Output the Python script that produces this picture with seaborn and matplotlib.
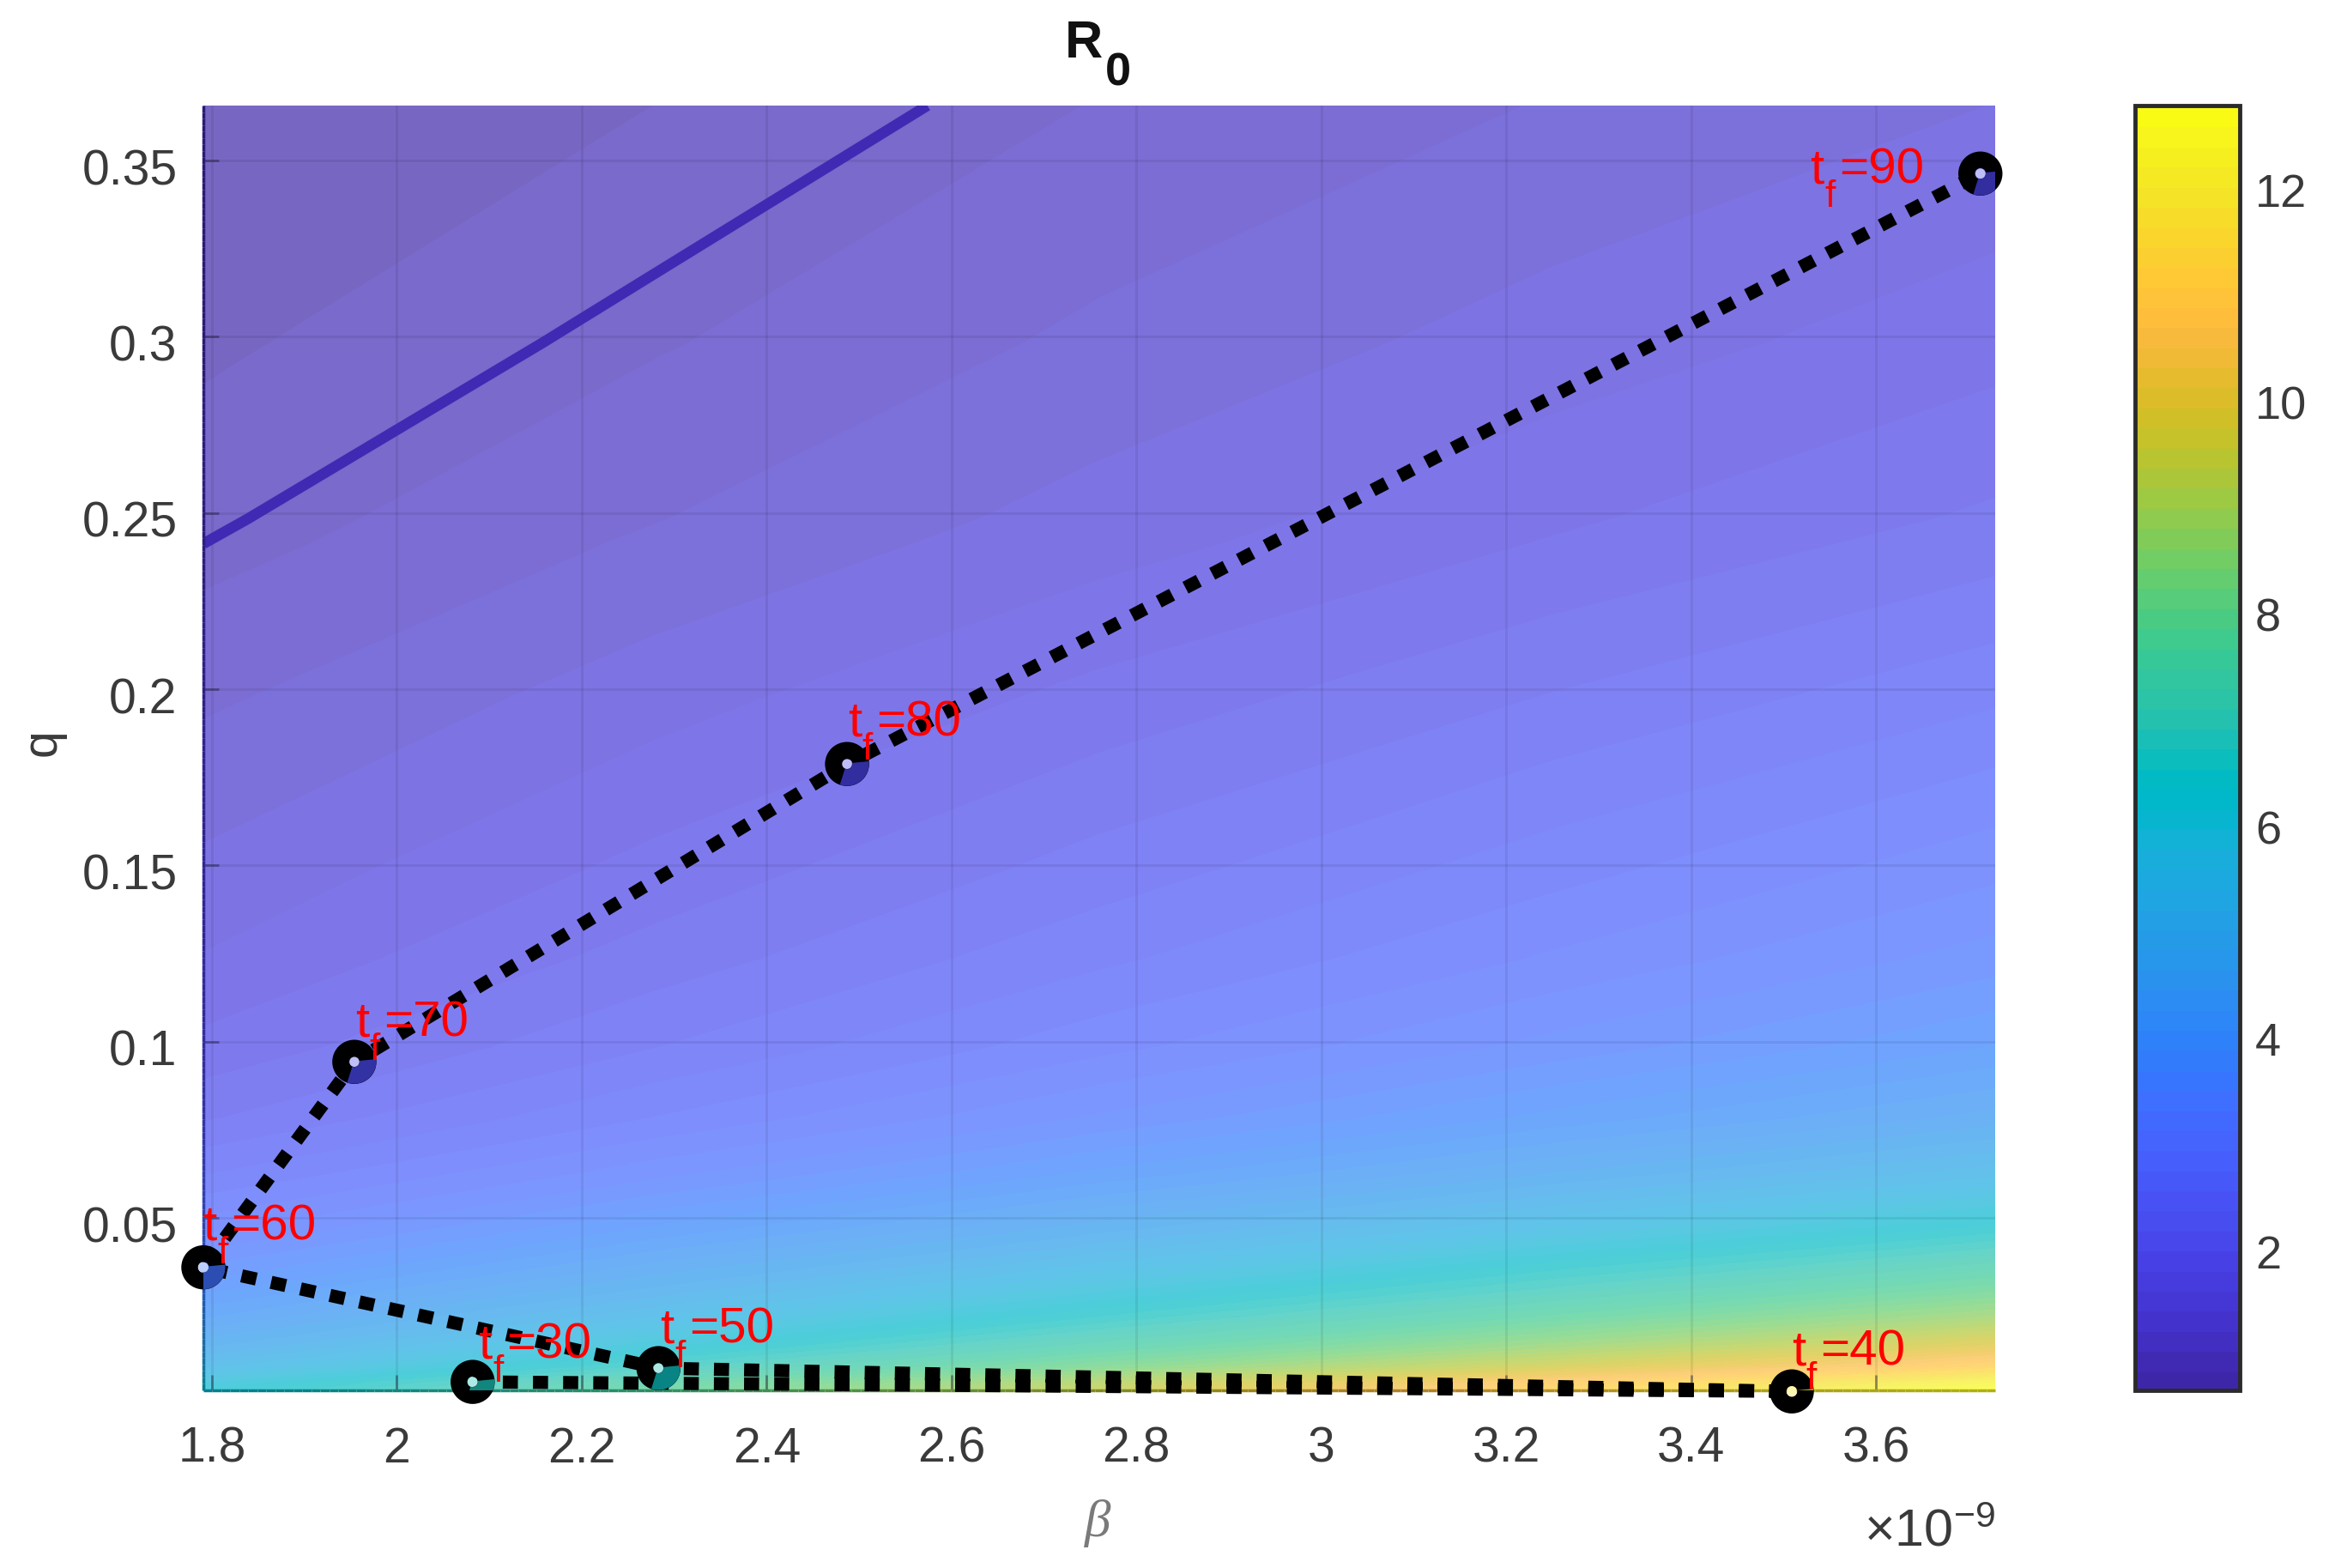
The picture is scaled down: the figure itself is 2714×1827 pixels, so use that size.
import numpy as np
import matplotlib
matplotlib.use("Agg")
import matplotlib.pyplot as plt
from matplotlib.colors import ListedColormap, Normalize
from matplotlib.cm import ScalarMappable
from matplotlib.collections import LineCollection
from matplotlib.path import Path
from matplotlib.transforms import ScaledTranslation
import seaborn as sns

# ---- data (beta in units of 1e-9) ----
beta_grid = [1.7907, 2.28, 2.76, 3.25, 3.729]
q_grid = [0.0011, 0.0033, 0.0079, 0.0138, 0.0218, 0.0299, 0.0463, 0.0623, 0.0783,
          0.0983, 0.1233, 0.1483, 0.1983, 0.2413, 0.2483, 0.2983, 0.3656]
r0_table = [
    [6.16, 7.84, 9.49, 11.18, 12.80],
    [5.96, 7.59, 9.19, 10.82, 12.42],
    [5.33, 6.79, 8.22, 9.69, 11.12],
    [4.80, 6.11, 7.40, 8.71, 10.00],
    [4.26, 5.43, 6.57, 7.74, 8.88],
    [3.83, 4.88, 5.91, 6.96, 7.98],
    [3.11, 3.97, 4.80, 5.66, 6.49],
    [2.58, 3.28, 3.97, 4.68, 5.37],
    [2.18, 2.78, 3.37, 3.97, 4.55],
    [1.88, 2.39, 2.90, 3.41, 3.92],
    [1.65, 2.10, 2.54, 2.99, 3.43],
    [1.49, 1.89, 2.29, 2.70, 3.10],
    [1.22, 1.55, 1.88, 2.21, 2.54],
    [1.00, 1.29, 1.56, 1.84, 2.11],
    [0.973, 1.25, 1.52, 1.79, 2.05],
    [0.85, 1.05, 1.30, 1.53, 1.75],
    [0.71, 0.88, 1.076, 1.27, 1.45],
]
tf_values = [30, 40, 50, 60, 70, 80, 90]
tf_beta = [2.082, 3.509, 2.283, 1.7907, 1.954, 2.487, 3.713]
tf_q = [0.0035, 0.0008, 0.0074, 0.036, 0.0943, 0.1788, 0.3463]
tf_r0 = [6.9, 12.0, 6.7, 3.45, 2.05, 1.9, 2.0]
label_beta = [2.088, 3.509, 2.285, 1.79, 1.955, 2.488, 3.529]
label_q = [0.0103, 0.0084, 0.0145, 0.0439, 0.1016, 0.1868, 0.3436]
x_ticks = [1.8, 2.0, 2.2, 2.4, 2.6, 2.8, 3.0, 3.2, 3.4, 3.6]
x_labels = ["1.8", "2", "2.2", "2.4", "2.6", "2.8", "3", "3.2", "3.4", "3.6"]
y_ticks = [0.05, 0.1, 0.15, 0.2, 0.25, 0.3, 0.35]
y_labels = ["0.05", "0.1", "0.15", "0.2", "0.25", "0.3", "0.35"]
cbar_ticks = [2, 4, 6, 8, 10, 12]
clim = (0.69, 12.80)
xlim = (1.7907, 3.729)
ylim = (0.0011, 0.3656)

parula = np.array([
 [.2422,.1504,.6603],[.2504,.1650,.7076],[.2578,.1818,.7511],[.2647,.1978,.7952],
 [.2706,.2147,.8364],[.2751,.2342,.8710],[.2783,.2559,.8991],[.2803,.2782,.9221],
 [.2813,.3006,.9414],[.2810,.3228,.9579],[.2795,.3447,.9717],[.2760,.3667,.9829],
 [.2699,.3892,.9906],[.2602,.4123,.9952],[.2440,.4358,.9988],[.2206,.4603,.9973],
 [.1963,.4847,.9892],[.1834,.5074,.9798],[.1786,.5289,.9682],[.1764,.5499,.9520],
 [.1687,.5703,.9359],[.1540,.5902,.9218],[.1460,.6091,.9079],[.1380,.6276,.8973],
 [.1248,.6459,.8883],[.1113,.6635,.8763],[.0952,.6798,.8598],[.0689,.6948,.8394],
 [.0297,.7082,.8163],[.0036,.7203,.7917],[.0067,.7312,.7660],[.0433,.7411,.7394],
 [.0964,.7500,.7120],[.1408,.7584,.6842],[.1717,.7670,.6554],[.1938,.7758,.6251],
 [.2161,.7843,.5923],[.2470,.7918,.5567],[.2906,.7973,.5188],[.3406,.8008,.4789],
 [.3909,.8029,.4354],[.4456,.8024,.3909],[.5044,.7993,.3480],[.5616,.7942,.3045],
 [.6174,.7876,.2612],[.6720,.7793,.2227],[.7242,.7698,.1910],[.7738,.7598,.1646],
 [.8203,.7498,.1535],[.8634,.7406,.1596],[.9035,.7330,.1774],[.9393,.7288,.2100],
 [.9728,.7298,.2394],[.9956,.7434,.2371],[.9970,.7659,.2199],[.9952,.7893,.2028],
 [.9892,.8136,.1885],[.9786,.8386,.1766],[.9676,.8639,.1643],[.9610,.8890,.1537],
 [.9597,.9135,.1423],[.9628,.9373,.1265],[.9691,.9606,.1064],[.9769,.9839,.0805]])

sns.set_theme(style="white")
plt.rcParams["font.family"] = ["Liberation Sans", "DejaVu Sans"]
plt.rcParams["mathtext.fontset"] = "custom"
plt.rcParams["mathtext.rm"] = "Liberation Sans"
plt.rcParams["mathtext.it"] = "Liberation Sans:italic"
plt.rcParams["mathtext.bf"] = "Liberation Sans:bold"
plt.rcParams["mathtext.default"] = "regular"

W, H = 2714, 1827
fig = plt.figure(figsize=(W / 100, H / 100), dpi=100, facecolor="white")
L, R, T, B = 237, 2325, 123, 1620
ax = fig.add_axes([L / W, 1 - B / H, (R - L) / W, (B - T) / H])

ALPHA = 0.7
cmap_op = ListedColormap(parula)
cmap_soft = ListedColormap(ALPHA * parula + (1 - ALPHA))
cmap_dark = ListedColormap(ALPHA * parula)
cmap_hole = ListedColormap(0.35 * parula + 0.65)
norm = Normalize(*clim)

Z = np.array(r0_table)
ax.contourf(beta_grid, q_grid, Z, levels=np.linspace(clim[0], clim[1], 65),
            cmap=cmap_soft, norm=norm, extend="both", zorder=1)
ax.contour(beta_grid, q_grid, Z, levels=[1.0], colors=[cmap_op(norm(1.0))],
           linewidths=9, zorder=3)

# tinted axes edges, following the field
edge_q = np.linspace(ylim[0], ylim[1], 200)
edge_b = np.linspace(xlim[0], xlim[1], 200)
left_vals = np.interp(edge_q, q_grid, Z[:, 0])
bot_vals = np.interp(edge_b, beta_grid, Z[0, :])
for xs, ys, vals in [(np.full_like(edge_q, xlim[0]), edge_q, left_vals),
                     (edge_b, np.full_like(edge_b, ylim[0]), bot_vals)]:
    pts = np.column_stack([xs, ys])
    lc = LineCollection(np.stack([pts[:-1], pts[1:]], axis=1), cmap=cmap_dark, norm=norm,
                        linewidths=2.5, zorder=4, clip_on=False)
    lc.set_array(vals[:-1])
    ax.add_collection(lc)

sns.lineplot(x=tf_beta, y=tf_q, sort=False, estimator=None, color="black", ax=ax,
             linewidth=11, linestyle=(0, (1.15, 1.15)), dash_capstyle="butt",
             clip_on=False, zorder=6)
sns.scatterplot(x=tf_beta, y=tf_q, s=530, marker="o", facecolor="none", edgecolor="black",
                linewidth=14, clip_on=False, zorder=7, ax=ax)
ax.scatter(tf_beta, tf_q, s=530, marker=Path.arc(250, 368), facecolors="none",
           edgecolors=cmap_dark(norm(np.array(tf_r0))), linewidths=14,
           capstyle="butt", zorder=8)
ax.scatter(tf_beta, tf_q, s=70, marker="o", color=cmap_hole(norm(np.array(tf_r0))),
           linewidths=0, clip_on=False, zorder=9)

for v, bx, qy in zip(tf_values, label_beta, label_q):
    common = dict(xy=(bx, qy), xycoords="data", textcoords="offset points", color="#ff0000",
                  ha="left", va="baseline", zorder=10, annotation_clip=False)
    ax.annotate("t", xytext=(0, 0), fontsize=42, **common)
    ax.annotate("f", xytext=(12, -20), fontsize=32, **common)
    ax.annotate("=%d" % v, xytext=(24, 0), fontsize=42, **common)

ax.set_xlim(*xlim)
ax.set_ylim(*ylim)
ax.set_xticks(x_ticks, x_labels)
ax.set_yticks(y_ticks, y_labels)
ax.grid(True, color="black", alpha=0.07, linewidth=2.2)
ax.set_axisbelow(False)
for s in ax.spines.values():
    s.set_visible(False)
ax.tick_params(axis="x", direction="in", length=13, width=2, color=(0.1, 0.1, 0.2, 0.45),
               labelsize=41, labelcolor="#3a3a3a", pad=30, bottom=True)
ax.tick_params(axis="y", direction="in", length=13, width=2, color=(0.1, 0.1, 0.2, 0.45),
               labelsize=41, labelcolor="#3a3a3a", pad=22, left=True)
for lab in ax.get_yticklabels():
    lab.set_transform(lab.get_transform() + ScaledTranslation(0, -5 / 72, fig.dpi_scale_trans))

fig.text(1241 / W, 1 - 67 / H, "R", fontsize=44, fontweight="bold",
         color="#111111", ha="left", va="baseline")
fig.text(1288 / W, 1 - 99 / H, "0", fontsize=39, fontweight="bold",
         color="#111111", ha="left", va="baseline")
fig.text(1279 / W, 1 - 1790 / H, "β", family="Liberation Serif", style="italic",
         fontsize=44, color="#7a7a7a", ha="center", va="baseline")
fig.text(50 / W, 1 - 865 / H, "q", fontsize=41, color="#3a3a3a", rotation=90,
         ha="center", va="center")
fig.text(R / W, 1 - 1801 / H, r"$\times$10$^{-9}$", fontsize=44, color="#3a3a3a",
         ha="right", va="baseline")

cax = fig.add_axes([2488 / W, 1 - B / H, (2610 - 2488) / W, (B - T) / H])
cb = fig.colorbar(ScalarMappable(norm=norm, cmap=cmap_op), cax=cax, ticks=cbar_ticks)
cb.solids.set_edgecolor("face")
cb.outline.set_edgecolor("#2b2b2b")
cb.outline.set_linewidth(3.5)
cax.tick_params(direction="in", length=11, width=2.5, color="#2b2b2b", labelsize=39,
                labelcolor="#3a3a3a", pad=13, right=True)

fig.savefig("out.png", dpi=100, facecolor="white")
